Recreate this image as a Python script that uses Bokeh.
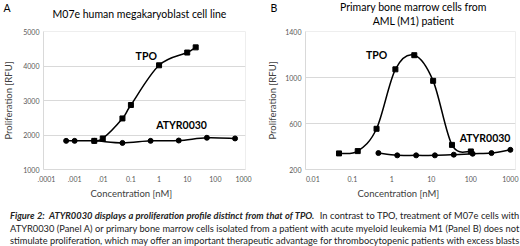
import numpy as np
from bokeh.plotting import figure
from bokeh.models import (Range1d, FixedTicker, CustomJSTickFormatter, Label, Div,
                          ColumnDataSource, Title)
from bokeh.core.properties import value
from bokeh.layouts import column, row
from bokeh.embed import file_html
from bokeh.resources import INLINE

# ---------------- data ----------------
a_title = "M07e human megakaryoblast cell line"
b_title_1 = "Primary bone marrow cells from"
b_title_2 = "AML (M1) patient"
y_title = "Proliferation [RFU]"
x_title = "Concentration [nM]"

a_tpo_x = [0.005, 0.01, 0.05, 0.1, 1, 10, 20]
a_tpo_y = [1830, 1900, 2480, 2870, 4020, 4390, 4540]
a_atyr_x = [0.0005, 0.001, 0.005, 0.05, 0.5, 5, 50, 500]
a_atyr_y = [1830, 1830, 1830, 1770, 1830, 1840, 1920, 1900]
a_xticks = [0.0001, 0.001, 0.01, 0.1, 1, 10, 100, 1000]
a_xlabels = [".0001", ".001", ".01", "0.1", "1", "10", "100", "1000"]
a_yticks = [1000, 2000, 3000, 4000, 5000]

b_tpo_x = [0.046, 0.137, 0.41, 1.23, 3.7, 11.1, 33.3, 100]
b_tpo_y = [340, 360, 554, 1071, 1194, 971, 414, 357]
b_atyr_x = [0.457, 1.37, 4.12, 12.3, 37, 111, 333, 1000]
b_atyr_y = [343, 323, 323, 323, 329, 337, 343, 371]
b_xticks = [0.01, 0.1, 1, 10, 100, 1000]
b_xlabels = ["0.01", "0.1", "1", "10", "100", "1000"]
b_yticks = [200, 600, 1000, 1400]

caption_lines = [
    "<b><i>Figure 2:&nbsp; ATYR0030 displays a proliferation profile distinct from that of TPO.</i></b>"
    "&nbsp; In contrast to TPO, treatment of M07e cells with",
    "ATYR0030 (Panel A) or primary bone marrow cells isolated from a patient with acute myeloid "
    "leukemia M1 (Panel B) does not",
    "stimulate proliferation, which may offer an important therapeutic advantage for "
    "thrombocytopenic patients with excess blasts",
]

FONT = "Lato"
TICK_COLOR = "#595959"
GRID = "#d9d9d9"
HEADER_H = 27


def bezier_source(xs, ys):
    """Excel-like smoothed segments: control points from neighbouring data points."""
    lx = np.log10(np.asarray(xs, float))
    y = np.asarray(ys, float)
    n = len(lx)
    d = dict(x0=[], y0=[], x1=[], y1=[], cx0=[], cy0=[], cx1=[], cy1=[])
    for i in range(n - 1):
        p0 = i - 1 if i > 0 else i
        p3 = i + 2 if i + 2 < n else i + 1
        c0x = lx[i] + (lx[i + 1] - lx[p0]) / 6
        c0y = y[i] + (y[i + 1] - y[p0]) / 6
        c1x = lx[i + 1] - (lx[p3] - lx[i]) / 6
        c1y = y[i + 1] - (y[p3] - y[i]) / 6
        d["x0"].append(10 ** lx[i]); d["y0"].append(y[i])
        d["x1"].append(10 ** lx[i + 1]); d["y1"].append(y[i + 1])
        d["cx0"].append(10 ** c0x); d["cy0"].append(c0y)
        d["cx1"].append(10 ** c1x); d["cy1"].append(c1y)
    return ColumnDataSource(d)


def make_panel(xr, yr, xticks, xlabels, yticks, left, right, xt_offset):
    p = figure(width=260, height=205 - HEADER_H, x_axis_type="log",
               x_range=Range1d(*xr), y_range=Range1d(*yr),
               output_backend="svg", toolbar_location=None,
               min_border_left=left, min_border_right=right,
               min_border_top=31 - HEADER_H, min_border_bottom=36)
    p.outline_line_color = "#eeeeee"
    p.xgrid.grid_line_color = None
    p.ygrid.grid_line_color = GRID
    p.ygrid.ticker = FixedTicker(ticks=yticks)

    mapping = {str(round(np.log10(t))): l for t, l in zip(xticks, xlabels)}
    code = "const m = %s; return m[String(Math.round(Math.log10(tick)))];" % (
        "{" + ",".join('"%s":"%s"' % (k, v) for k, v in mapping.items()) + "}")
    p.xaxis.ticker = FixedTicker(ticks=xticks)
    p.xaxis.formatter = CustomJSTickFormatter(code=code)
    p.yaxis.ticker = FixedTicker(ticks=yticks)
    for ax in (p.xaxis[0], p.yaxis[0]):
        ax.major_tick_out = 0
        ax.major_tick_in = 0
        ax.minor_tick_out = 0
        ax.minor_tick_in = 0
        ax.axis_line_color = GRID
        ax.major_label_text_font = FONT
        ax.major_label_text_font_size = "7px"
        ax.major_label_text_color = TICK_COLOR
        ax.axis_label_text_font = FONT
        ax.axis_label_text_font_style = "normal"
        ax.axis_label_text_font_size = "9.5px"
        ax.axis_label_text_color = "#404040"
    p.xaxis.major_label_standoff = 6
    p.yaxis.major_label_standoff = 4
    p.yaxis.axis_label = y_title
    p.add_layout(Title(text=x_title, align="left", offset=xt_offset, standoff=2,
                       text_font=FONT, text_font_size="9.5px", text_font_style="normal",
                       text_color="#404040"), "below")
    return p


def draw_series(p, xs, ys, marker):
    p.bezier(x0="x0", y0="y0", x1="x1", y1="y1", cx0="cx0", cy0="cy0",
             cx1="cx1", cy1="cy1", source=bezier_source(xs, ys),
             line_color="black", line_width=1.5)
    p.scatter(xs, ys, marker=marker, size=5, fill_color="black", line_color="black")


def tag(p, txt, x, y):
    p.add_layout(Label(x=x, y=y, text=txt, text_font=FONT, text_font_size="10.5px",
                       text_font_style="bold", text_align="center",
                       text_baseline="middle", text_color="black"))


# ---------------- header (panel letters and titles) ----------------
header = figure(width=520, height=HEADER_H, x_range=Range1d(0, 520),
                y_range=Range1d(HEADER_H, 0), output_backend="svg",
                toolbar_location=None, min_border=0,
                x_axis_location=None, y_axis_location=None)
header.grid.grid_line_color = None
header.outline_line_color = None
header.text(x=[3, 270], y=[7, 7], text=["A", "B"], text_font=value(FONT),
            text_font_size="10.5px", text_align="left", text_baseline="middle",
            text_color="black")
header.text(x=[139, 413, 413], y=[13, 6.5, 20], text=[a_title, b_title_1, b_title_2],
            text_font=value(FONT), text_font_size="10.5px", text_align="center",
            text_baseline="middle", text_color="black")

# ---------------- panel A ----------------
pA = make_panel((10 ** -4.105, 10 ** 3.07), (1000, 5000), a_xticks, a_xlabels, a_yticks, 40, 15, 47)
pA.yaxis.axis_label_standoff = 6
draw_series(pA, a_tpo_x, a_tpo_y, "square")
draw_series(pA, a_atyr_x, a_atyr_y, "circle")
tag(pA, "TPO", 0.35, 4300)
tag(pA, "ATYR0030", 6.3, 2280)

# ---------------- panel B ----------------
pB = make_panel((10 ** -2.185, 10 ** 3.13), (200, 1400), b_xticks, b_xlabels, b_yticks, 45, 5, 52)
pB.yaxis.axis_label_standoff = 4
draw_series(pB, b_tpo_x, b_tpo_y, "square")
draw_series(pB, b_atyr_x, b_atyr_y, "circle")
tag(pB, "TPO", 0.41, 1200)
tag(pB, "ATYR0030", 229, 470)

just = "text-align: justify; text-align-last: justify; height: 12.5px; overflow: visible;"
last = "text-align: left; height: 12.5px; overflow: visible;"
html = "".join('<div style="%s">%s</div>' % (just if i < 2 else last, ln)
               for i, ln in enumerate(caption_lines))
caption = Div(
    text=html, width=520, height=41,
    styles={"font-family": FONT, "font-size": "9.3px", "line-height": "12.5px",
            "color": "#222222", "padding": "0px 5px 0 5px", "overflow": "visible",
            "box-sizing": "border-box", "width": "520px"})

layout = column(header, row(pA, pB), caption)
open("out.html", "w").write(file_html(layout, INLINE))
